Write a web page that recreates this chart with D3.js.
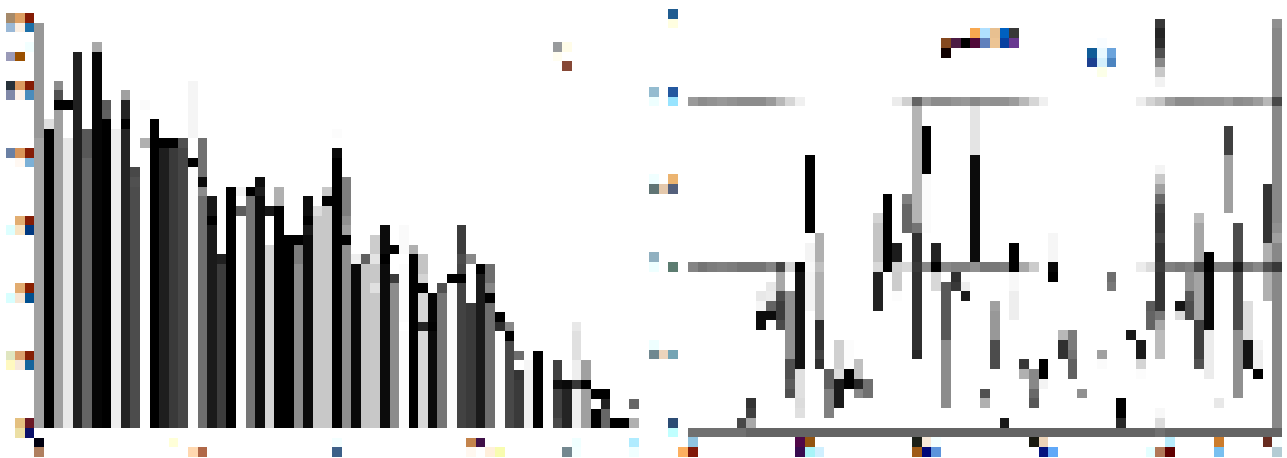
<!DOCTYPE html>
<html>
<head>
<meta charset="utf-8">
<script src="https://cdn.jsdelivr.net/npm/d3@7"></script>
<style>html,body{margin:0;padding:0;background:#fff}svg{display:block}</style>
</head>
<body>
<svg id="chart" width="1287" height="458"></svg>
<script>
// Each run: [column, first row, last row, grey level]
const leftRuns = [
[3,2,13,0x98],[3,14,43,0xa2],
[4,12,12,0xe0],[4,13,43,0],
[5,8,8,0x8c],[5,9,9,0x50],[5,10,10,0],[5,11,43,0xa0],
[6,10,10,0],[6,14,43,0xe8],
[7,5,43,0x20],
[8,13,15,0x58],[8,16,43,0x64],
[9,4,4,0xa8],[9,5,43,0x05],
[10,10,10,0x5a],[10,11,11,0x60],[10,12,43,0],
[11,13,43,0xee],
[12,9,9,0xa0],[12,10,11,0x24],[12,12,12,0],[12,13,43,0x24],
[13,17,17,0x48],[13,18,18,0x50],[13,19,43,0x4c],
[14,10,10,0xfa],[14,14,14,0xb0],
[15,12,43,0],
[16,14,14,0],[16,15,43,0x1e],
[17,14,14,0],[17,15,43,0x3a],
[18,14,14,0x50],[18,15,43,0x46],
[19,8,13,0xf5],[19,16,16,0],[19,17,43,0xfd],
[20,14,17,0x70],[20,18,18,0x0a],[20,19,19,0x8c],[20,20,43,0x6e],
[21,20,21,0x18],[21,22,22,0],[21,23,43,0x1a],
[22,26,26,0x20],[22,27,43,0x3c],
[23,19,43,0],
[24,19,19,0xf2],[24,21,21,0x5c],[24,22,43,0xfd],
[25,19,19,0],[25,20,43,0x74],
[26,18,18,0x0e],[26,19,19,0x1e],[26,20,43,0x0c],
[27,21,21,0x18],[27,25,43,0xd4],
[28,19,20,0xb0],[28,21,43,0],
[29,24,43,0],
[30,24,24,0],[30,25,26,0x7c],[30,27,43,0x8c],
[31,20,21,0x0c],[31,22,22,0],[31,23,23,0x18],[31,24,43,0x0a],
[32,21,21,0xdc],[32,22,43,0xc8],
[33,19,19,0xc8],[33,20,20,0],[33,21,43,0xc8],
[34,13,13,0xfc],[34,15,15,0x0a],[34,16,43,0],
[35,18,21,0x7e],[35,22,22,0x90],[35,23,23,0xa0],[35,24,24,0],[35,25,43,0x8e],
[36,26,26,0xee],[36,27,43,0x08],
[37,26,26,0x60],[37,27,43,0xc4],
[38,24,25,0xcc],[38,26,26,0xe4],[38,27,28,0xc8],[38,29,29,0xe0],[38,30,43,0xc8],
[39,23,25,0x0c],[39,26,26,0],[39,27,43,0x0c],
[40,25,25,0],[40,28,28,0x3a],[40,29,43,0x8c],
[41,23,25,0xfa],[41,27,32,0xfc],[41,34,43,0xfc],
[42,25,25,0xb0],[42,26,43,0],
[43,26,27,0xc4],[43,28,28,0xd4],[43,29,29,0],[43,30,32,0xd6],[43,33,33,0x24],[43,34,43,0xd8],
[44,30,32,0x04],[44,33,33,0],[44,34,43,0x0a],
[45,29,29,0x50],[45,30,43,0x74],
[46,28,28,0],[46,29,43,0xfc],
[47,23,25,0x3c],[47,26,26,0x4c],[47,27,27,0x46],[47,28,28,0],[47,29,43,0x42],
[48,26,26,0x88],[48,31,43,0x3a],
[49,27,27,0],[49,28,43,0x1a],
[50,27,28,0x6e],[50,29,29,0x86],[50,30,30,0],[50,31,43,0x6e],
[51,32,32,0],[51,33,33,0x2e],[51,34,43,0xfe],
[52,33,33,0x88],[52,34,34,0],[52,35,43,0x48],
[53,36,36,0x6e],[53,38,38,0x34],[53,39,43,0x3a],
[54,37,37,0xf6],[54,38,43,0xf0],
[55,36,43,0],
[57,37,38,0x40],[57,39,39,0x10],[57,40,42,0x40],[57,43,43,0x4a],
[58,39,39,0x0a],[58,40,43,0x24],
[59,33,33,0xe8],[59,34,36,0xe0],[59,37,38,0xee],[59,39,39,0x38],[59,40,43,0xf0],
[60,37,38,0xa0],[60,39,39,0],[60,40,43,0xa0],
[61,40,40,0],[61,42,43,0],
[62,40,40,0],[62,41,41,0x22],[62,42,43,0x66],
[63,43,43,0],[64,43,43,0],
[65,41,41,0x66],[65,43,43,0xb0]
];

// Each swatch: [column, row, colour]
const leftSwatches = [
[0,1,"#a68a6a"],[1,1,"#dd9f62"],[2,1,"#851c05"],
[0,2,"#9ab8d6"],[1,2,"#faeee2"],[2,2,"#1c6fa8"],
[2,4,"#f2ffff"],[0,5,"#9a9ab8"],[1,5,"#9a5000"],
[0,8,"#28323a"],[1,8,"#dc9a60"],[2,8,"#851c05"],
[0,9,"#8088a8"],[1,9,"#fdf2ea"],[2,9,"#4a8cbc"],
[0,15,"#6a80a4"],[1,15,"#d89458"],[2,15,"#851c05"],
[1,16,"#fff8f2"],[2,16,"#7cb0d6"],
[1,22,"#e2ae72"],[2,22,"#851c05"],
[0,23,"#ddffff"],[1,23,"#f8e4c4"],[2,23,"#003880"],
[1,29,"#e2ac70"],[2,29,"#8a2000"],
[0,30,"#d8ffff"],[1,30,"#f6e6d4"],[2,30,"#005090"],
[0,36,"#e0e6c0"],[1,36,"#dca06c"],[2,36,"#851f05"],
[0,37,"#fff9c0"],[1,37,"#f6e8dc"],[2,37,"#14649c"],
[1,43,"#e4c080"],[2,43,"#6a1824"],
[1,44,"#ecdfa4"],[2,44,"#0a1068"],
[3,45,"#000010"],[17,45,"#ffffd8"],
[3,46,"#b08060"],[19,46,"#ffd8b0"],[20,46,"#b06848"],
[57,4,"#989a9c"],[58,4,"#fffce8"],[57,5,"#fffdf0"],[58,6,"#864836"],
[34,45,"#f4ffff"],[48,45,"#c4844c"],[49,45,"#401048"],[59,45,"#f0ffff"],[65,45,"#b0ecff"],
[34,46,"#3c6088"],[48,46,"#fff8f0"],[50,46,"#fff0dc"],[51,46,"#f8fcb0"],
[58,46,"#748890"],[59,46,"#f4ffff"],[65,46,"#f0ffff"]
];

const rightRuns = [
[64,1,1,0x90],[64,2,8,0x88],[64,10,21,0x88],[64,22,22,0x90],[64,23,23,0xa0],[64,24,25,0x88],[64,27,42,0x88],
[52,1,1,0x38],[52,2,2,0x24],[52,3,3,0x2c],[52,4,4,0x50],[52,5,5,0x88],[52,6,6,0xc8],[52,7,7,0xf2],
[52,16,16,0xf4],[52,17,17,0xc8],[52,18,18,0xa0],[52,19,19,0x68],[52,20,20,0x40],[52,21,22,0x38],
[52,23,23,0x44],[52,24,25,0x34],[52,27,30,0x34],[52,31,31,0x78],[52,32,32,0xa8],[52,33,35,0xbc],
[52,41,41,0xf8],[52,42,42,0xdc],
[16,15,22,0],[16,24,25,0xf4],[16,27,30,0xf4],
[17,23,25,0xb0],[17,27,31,0xb0],[17,32,32,0x2c],[17,33,34,0x34],[17,35,35,0x44],[17,36,36,0x30],
[23,21,21,0xd4],[23,22,25,0xc4],[23,27,30,0x22],
[24,19,25,0],
[25,24,25,0x1c],[25,27,28,0xcc],[25,29,29,0xfc],
[26,19,19,0x80],[26,20,22,0x66],
[27,10,21,0xb4],[27,22,22,0x74],[27,23,25,0x30],[27,27,34,0x30],[27,35,35,0x26],
[28,12,16,0],[28,17,22,0xfb],
[29,24,25,0x22],[29,27,28,0xd8],
[30,28,33,0x58],[30,34,40,0x8c],
[31,27,27,0x2e],[31,28,28,0x38],
[32,27,27,0xfc],[32,28,28,0xee],[32,29,29,0x1a],
[33,10,14,0xe4],[33,15,25,0x0c],
[37,24,25,0],[37,27,28,0xf8],[37,29,31,0xee],
[41,23,25,0xf6],[41,27,27,0],
[35,30,30,0xa0],[35,31,33,0x98],[35,34,36,0x4c],
[36,42,42,0x18],
[34,39,39,0x50],[34,40,40,0xb0],
[38,36,36,0x38],[38,37,37,0xb0],
[39,37,38,0x88],[39,39,39,0x68],[39,40,40,0x58],
[40,36,37,0],[40,38,38,0xf4],
[42,33,33,0xb8],[42,34,35,0x30],
[43,33,34,0x7c],[43,35,35,0x72],[43,36,37,0x60],
[44,39,39,0x90],
[46,35,35,0xa0],[46,36,36,0xfb],
[47,27,27,0x6e],[47,28,28,0x78],
[48,40,41,0],[48,42,42,0x28],
[49,33,33,0x18],
[50,34,35,0x1a],[50,36,36,0xd4],[50,37,37,0xfc],
[51,30,30,0x5c],[51,31,32,0x64],
[54,30,30,0x14],[54,31,31,0xdc],
[55,27,28,0x90],[55,29,29,0x58],[55,30,31,0x4c],
[56,21,21,0xbc],[56,22,25,0xa6],[56,27,31,0xa4],[56,32,35,0x40],[56,36,36,0x50],
[57,25,25,0],[57,27,32,0x08],[57,33,37,0xec],
[58,40,40,0xe8],
[59,12,14,0x40],[59,15,20,0xa0],
[60,22,25,0x4c],[60,27,32,0x4c],[60,33,39,0x90],
[61,30,33,0xde],[61,34,36,0x14],
[62,34,34,0xf4],[62,35,36,0xee],[62,37,37,0],
[63,18,23,0x34],[63,24,25,0xb0],[63,27,29,0xb0],
[13,27,28,0xa8],[13,29,29,0x4c],[13,30,31,0x3c],[13,32,32,0x4a],
[12,28,28,0xe8],[12,29,29,0xec],[12,30,30,0x64],[12,31,31,0x0c],
[11,29,29,0xe8],[11,30,30,0xf6],[11,31,32,0x0c],
[14,29,35,0x90],[14,36,37,0x50],[14,38,38,0x5c],[14,39,39,0x50],
[15,27,36,0x12],[15,37,39,0xe0],[15,40,40,0xdc],[15,41,41,0xe0],
[10,40,40,0x34],[10,41,41,0x40],[10,42,42,0xa8],
[9,42,42,0x48],
[18,37,38,0x60],[18,39,41,0x80],
[19,34,36,0xd0],[19,37,37,0xdc],[19,38,40,0x1a],
[20,34,36,0xfc],[20,37,38,0],
[21,36,37,0xc0],[21,38,38,0x26],[21,39,39,0x88],
[22,38,39,0x70]
];

// Grey levels of the three horizontal lines, keyed by row, from the first column listed
const upperRow = 9, middleRow = 26, baseRow = 43;
const upperStart = 4, middleStart = 4, baseStart = 4;
const upperLine = [0x9a,0x8c,0x92,0x98,0x92,0x8c,0x8c,0x8c,0x9a,0xb8,0xd6,0xf0,
  255,255,255,255,255,255,255,255,255,0xec,0xd0,0x64,0x9c,0x8c,0x8c,0x94,0x98,
  0x88,0x94,0x90,0x92,0x9c,0xb8,0xd6,0xf0,255,255,255,255,255,255,255,255,255,
  0xee,0xd4,0xc4,0x9c,0x8c,0x8c,0x92,0x94,0x94,0x9c,0x8c,0x90,0x9c,0xb8,0x48];
const middleLine = [0x84,0x74,0x7c,0x80,0x7c,0x74,0x74,0x74,0x84,0x44,0xd4,0x00,0xf8,0xc0,
  255,255,255,255,255,0xd8,0x00,0xd0,0xd8,0x38,0x88,0x00,0x88,0x80,0x80,
  0x90,0x76,0x78,0x7c,0x00,0xa8,0xcc,255,0x08,255,255,255,255,255,255,255,255,
  0xec,0xdc,0x3c,0x80,0x78,0x80,0x48,0x00,0x80,0x80,0x1c,0x78,0x88,0x50,0x38];
const baseLine = [0x70,0x70,0x70,0x70,0x70,0x70,0x64,0x64,0x64,0x64,0x64,0x64,0x64,0x64,0x64,0x64,
  0x64,0x64,0x64,0x64,0x64,0x64,0x64,0x64,0x64,0x64,0x64,0x64,0x64,0x64,0x64,0x64,
  0x64,0x64,0x64,0x64,0x64,0x64,0x64,0x64,0x64,0x64,0x64,0x64,0x64,0x64,0x64,0x64,
  0x70,0x64,0x64,0x64,0x64,0x64,0x64,0x64,0x64,0x64,0x64,0x64,0x64];

const rightSwatches = [
[2,0,"#205c90"],[2,1,"#fffee0"],
[0,8,"#94bcd0"],[2,8,"#2458a0"],[0,9,"#eeffff"],[2,9,"#98e4ff"],
[0,17,"#f0ffff"],[2,17,"#ecb470"],[0,18,"#607474"],[1,18,"#e4c8ac"],[2,18,"#54607c"],
[30,3,"#84481f"],[31,3,"#4c1c44"],[32,3,"#000000"],[30,4,"#100000"],
[33,2,"#f8a850"],[34,2,"#b0e0ff"],[35,2,"#e8c090"],[36,2,"#0060c0"],[37,2,"#383838"],
[33,3,"#500838"],[34,3,"#6080bc"],[35,3,"#ecc494"],[36,3,"#0840a0"],[37,3,"#683890"],
[46,3,"#f8fcff"],[45,4,"#105c98"],[46,4,"#e8f8ff"],[47,4,"#6ca4dc"],
[45,5,"#1c4090"],[46,5,"#d4f0fc"],[47,5,"#4c84c0"],[46,6,"#fcffe8"],
[0,25,"#90b0c0"],[0,26,"#eeffff"],[2,26,"#5c7c70"],
[0,34,"#eeffff"],[0,35,"#708890"],[1,35,"#ecd4bc"],[2,35,"#74a4b4"],
[2,42,"#2c4c74"],[2,43,"#c0ffff"],
[4,44,"#90c4e0"],[15,44,"#500848"],[16,44,"#945410"],[27,44,"#1c2018"],[28,44,"#f6e8d8"],[29,44,"#f4ffff"],
[3,45,"#fcb060"],[4,45,"#801808"],[15,45,"#380c50"],[16,45,"#a8f4f8"],[17,45,"#d0f0ff"],
[27,45,"#a05c18"],[28,45,"#000878"],[29,45,"#5c94dc"],
[39,44,"#1a1a10"],[40,44,"#ecd4b8"],[53,44,"#b8ecfc"],[58,44,"#cc7c2c"],[63,44,"#682c20"],[64,44,"#f8ffff"],
[40,45,"#041480"],[41,45,"#60a8f8"],[51,45,"#e4ffff"],[52,45,"#b07858"],[53,45,"#600000"],[58,45,"#78c0f0"],[64,45,"#b4ccd4"]
];

const svg = d3.select("#chart");
const grey = d3.scaleLinear().domain([0, 255]).range(["#000000", "#ffffff"]);
const xLeft = d3.scaleLinear().domain([0, 66]).range([5.7, 639]);
const yLeft = d3.scaleLinear().domain([0, 44]).range([3.35, 428]);
const xRight = d3.scaleLinear().domain([0, 65]).range([649, 1282]);
const yRight = d3.scaleLinear().domain([0, 43]).range([9, 427.5]);

function drawCells(group, cells, x, y) {
  group.selectAll("rect").data(cells).join("rect")
    .attr("x", d => Math.round(x(d.c)))
    .attr("y", d => Math.round(y(d.r0)))
    .attr("width", d => Math.round(x(d.c + 1)) - Math.round(x(d.c)))
    .attr("height", d => Math.round(y(d.r1 + 1)) - Math.round(y(d.r0)))
    .attr("fill", d => d.fill)
    .attr("shape-rendering", "crispEdges");
}
const fromRun = ([c, r0, r1, g]) => ({c, r0, r1, fill: grey(g)});
const fromSwatch = ([c, r, fill]) => ({c, r0: r, r1: r, fill});
const fromLine = (values, start, row) => values
  .map((g, i) => ({c: start + i, r0: row, r1: row, fill: grey(g)}))
  .filter((_, i) => values[i] < 255);

drawCells(svg.append("g"), leftRuns.map(fromRun), xLeft, yLeft);
drawCells(svg.append("g"), leftSwatches.map(fromSwatch), xLeft, yLeft);
drawCells(svg.append("g"), rightRuns.map(fromRun), xRight, yRight);
drawCells(svg.append("g"), [
  ...fromLine(upperLine, upperStart, upperRow),
  ...fromLine(middleLine, middleStart, middleRow),
  ...fromLine(baseLine, baseStart, baseRow)
], xRight, yRight);
drawCells(svg.append("g"), rightSwatches.map(fromSwatch), xRight, yRight);
</script>
</body>
</html>
